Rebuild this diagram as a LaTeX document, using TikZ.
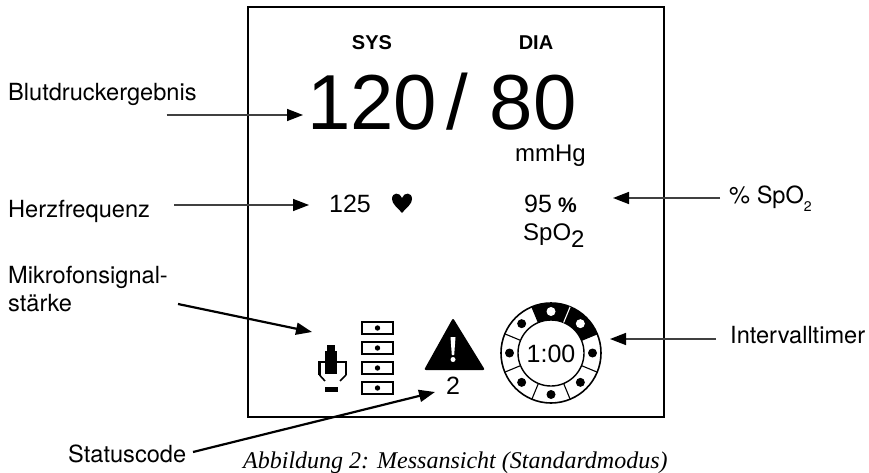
\documentclass[tikz,border=0pt]{standalone}
\usepackage{fontspec}
\setmainfont{Liberation Sans}
\newfontfamily\lblfont{TeX Gyre Heros}
\newfontfamily\capfont{Liberation Serif}
\usepackage{tikz}
\usetikzlibrary{arrows.meta}

\begin{document}
\begin{tikzpicture}[
  x=1pt,y=-1pt,
  >={Stealth[length=16pt,width=12pt,inset=0pt,color=black]},
  lbl/.style={anchor=base west,inner sep=0pt,align=left,
              font=\lblfont\fontsize{23.6}{28}\selectfont},
  lcd/.style={anchor=base,inner sep=0pt,align=center},
  thin arrow/.style={->,draw=black!75,line width=1.5pt},
  thick arrow/.style={->,line width=2.2pt},
  frame/.style={draw,line width=2.4pt},
  sigbox/.style={draw,line width=1.2pt},
  segline/.style={line width=1.1pt}
]
\useasboundingbox (0,0) rectangle (869,473);

%% Display frame
\draw[frame] (248,7) rectangle (664,417);

%% Display values
\node[lcd,font=\bfseries\fontsize{20}{24}\selectfont] (sys) at (372,50) {SYS};
\node[lcd,font=\bfseries\fontsize{20}{24}\selectfont] (dia) at (536,50) {DIA};
\node[anchor=base west,inner sep=0pt,font=\fontsize{78}{88}\selectfont] (bp) at (307,130)
  {\spaceskip=9pt 120 /\hspace{13pt} 80};
\node[lcd,font=\fontsize{24}{28}\selectfont] (unit) at (550.5,161) {mmHg};
\node[lcd,font=\fontsize{25}{30}\selectfont] (pulse) at (350,212) {125};
\node[anchor=base west,inner sep=0pt,font=\fontsize{25}{30}\selectfont] (spoval) at (524,212)
  {95\hspace{6pt}{\fontsize{21}{30}\selectfont\bfseries\%}};
\node[anchor=base west,inner sep=0pt,font=\fontsize{24}{30}\selectfont] (spotxt) at (523,240)
  {SpO\raisebox{-7pt}{2}};
\node[lcd,font=\fontsize{25}{30}\selectfont] (code) at (453,394) {2};
\node[lcd,font=\fontsize{25}{30}\selectfont] (time) at (551,362) {1:00};

%% Heart
\fill (402,213) .. controls (397,207) and (392,204) .. (392,199)
  .. controls (392,192) and (400,192) .. (402,198)
  .. controls (404,192) and (412,192) .. (412,199)
  .. controls (412,204) and (407,207) .. (402,213) -- cycle;

%% Microphone
\fill (327,345) rectangle (335,352);
\fill (325,351) rectangle (337,374);
\draw[line width=2.4pt] (319.5,375) -- (319.5,362) -- (346,362) -- (346,375);
\draw[line width=1.6pt] (319.5,375) -- (325,381);
\draw[line width=1.6pt] (346,375) -- (340,381);
\fill (325,387) rectangle (338,392);

%% Signal strength
\foreach \y in {322,342,362,382} {
  \draw[sigbox] (362,\y) rectangle (393,\y+12);
  \fill (377.5,\y+6) circle[radius=2.7];
}

%% Warning triangle
\fill[rounded corners=2pt] (453,318) -- (485,370) -- (424,370) -- cycle;
\fill[white] (450.5,337) -- (455.5,337) -- (454.2,355) -- (451.8,355) -- cycle;
\fill[white] (453,359.5) circle[radius=2.5];

%% Interval timer
\begin{scope}[shift={(551,353)},y=1pt]
  \fill (22.5:50) arc[start angle=22.5,end angle=112.5,radius=50]
    -- (112.5:33) arc[start angle=112.5,end angle=22.5,radius=33] -- cycle;
  \draw[line width=1.6pt] (0,0) circle[radius=50];
  \draw[line width=1.4pt] (0,0) circle[radius=33];
  \foreach \a in {157.5,202.5,247.5,292.5,337.5,22.5,112.5}
    \draw[segline] (\a:33) -- (\a:50);
  \draw[segline,white] (67.5:33) -- (67.5:50);
  \foreach \a in {0,135,180,225,270,315}
    \fill (\a:41.5) circle[radius=4.5];
  \foreach \a in {45,90}
    \fill[white] (\a:41.5) circle[radius=4.5];
\end{scope}

%% Labels
\node[lbl] (lblbp) at (8,101) {Blutdruckergebnis};
\node[lbl] (lblhr) at (8,217) {Herzfrequenz};
\node[lbl] (lblmic) at (8,311) {Mikrofonsignal-\\stärke};
\node[lbl] (lblcode) at (68,462) {Statuscode};
\node[lbl] (lblspo) at (729,204) {\% SpO\raisebox{-8pt}{\fontsize{14}{16}\selectfont 2}};
\node[lbl] (lbltime) at (730,343) {Intervalltimer};
\node[anchor=base west,inner sep=0pt,font=\capfont\itshape\fontsize{24}{28}\selectfont] (cap) at (243,468)
  {Abbildung 2: Messansicht (Standardmodus)};

%% Arrow ends
\coordinate (bpA) at (166.5,115);
\coordinate (bpB) at (303,115);
\coordinate (hrA) at (174,205);
\coordinate (hrB) at (309,205);
\coordinate (micA) at (178,304);
\coordinate (micB) at (312,332);
\coordinate (codeA) at (193,452);
\coordinate (codeB) at (435,392);
\coordinate (spoA) at (720,198);
\coordinate (spoB) at (613,198);
\coordinate (timeA) at (716,339);
\coordinate (timeB) at (610,339);

%% Arrows
\draw[thin arrow] (bpA) -- (bpB);
\draw[thin arrow] (hrA) -- (hrB);
\draw[thick arrow] (micA) -- (micB);
\draw[thick arrow] (codeA) -- (codeB);
\draw[thin arrow] (spoA) -- (spoB);
\draw[thin arrow] (timeA) -- (timeB);

\end{tikzpicture}
\end{document}
